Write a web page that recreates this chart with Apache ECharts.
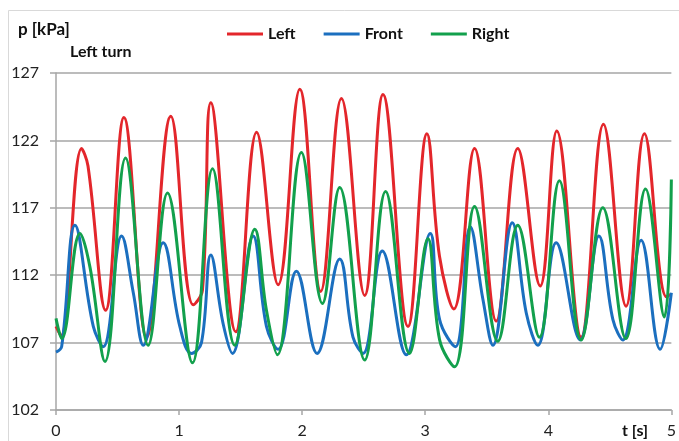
<!DOCTYPE html>
<html>
<head>
<meta charset="utf-8">
<script src="https://cdn.jsdelivr.net/npm/echarts@6/dist/echarts.min.js"></script>
<style>
  html, body { margin: 0; padding: 0; background: #fff; }
  #chart { width: 679px; height: 441px; }
</style>
</head>
<body>
<div id="chart"></div>
<script>
// time [s] and pressure [kPa]
var leftT = [0, 0.04, 0.208, 0.26, 0.403, 0.552, 0.736, 0.933, 1.115, 1.19, 1.258, 1.461, 1.63, 1.805, 1.981, 2.151, 2.319, 2.508, 2.657, 2.86, 3.014, 3.116, 3.232, 3.401, 3.577, 3.752, 3.934, 4.069, 4.267, 4.448, 4.632, 4.781, 4.96, 5];
var leftP = [108.2, 107.5, 121.4, 120.1, 109.4, 123.7, 107.4, 123.8, 109.8, 110.9, 124.8, 107.8, 122.6, 111.3, 125.8, 110.8, 125.1, 110.5, 125.4, 108.2, 122.5, 113.4, 109.5, 121.4, 108.6, 121.4, 111.2, 122.7, 107.4, 123.2, 109.7, 122.5, 110.4, 110.6];

var frontT = [0, 0.046, 0.154, 0.303, 0.384, 0.533, 0.628, 0.709, 0.871, 1.006, 1.101, 1.182, 1.258, 1.358, 1.434, 1.602, 1.71, 1.805, 1.953, 2.121, 2.305, 2.413, 2.495, 2.651, 2.846, 3.041, 3.117, 3.245, 3.366, 3.469, 3.55, 3.707, 3.821, 3.915, 4.064, 4.259, 4.411, 4.525, 4.606, 4.754, 4.909, 5];
var frontP = [106.3, 106.7, 115.7, 108.2, 106.7, 114.9, 110.7, 106.8, 114.4, 108.2, 106.2, 107.0, 113.5, 108.4, 106.2, 114.9, 108.2, 106.5, 112.3, 106.2, 113.2, 107.4, 106.2, 113.8, 106.1, 115.1, 108.7, 106.7, 115.6, 110.2, 106.8, 115.9, 109.2, 106.8, 114.4, 107.2, 114.9, 108.7, 107.2, 114.6, 106.5, 110.7];

var rightT = [0, 0.046, 0.195, 0.276, 0.398, 0.565, 0.749, 0.906, 1.109, 1.272, 1.453, 1.615, 1.71, 1.799, 1.994, 2.165, 2.305, 2.508, 2.678, 2.872, 3.022, 3.117, 3.239, 3.401, 3.59, 3.752, 3.928, 4.09, 4.267, 4.443, 4.63, 4.79, 4.943, 5];
var rightP = [108.8, 107.3, 115.1, 112.6, 105.6, 120.7, 106.8, 118.1, 105.5, 119.9, 106.8, 115.4, 109.4, 106.1, 121.1, 109.9, 118.5, 105.7, 118.2, 106.2, 114.7, 107.2, 105.2, 117.1, 107.1, 115.7, 107.4, 119.0, 107.2, 117.0, 107.3, 118.4, 108.9, 119.1];

var seriesNames = ["Left", "Front", "Right"];
var seriesColors = ["#e3262b", "#1b6fbf", "#12a04c"];

function pairs(t, p) {
  var out = [];
  for (var i = 0; i < t.length; i++) out.push([t[i], p[i]]);
  return out;
}

var chart = echarts.init(document.getElementById("chart"));
var font = "Lato, 'DejaVu Sans', sans-serif";
var gridColor = "#a6a6a6";

chart.setOption({
  backgroundColor: "#fff",
  animation: false,
  textStyle: { fontFamily: font },
  color: seriesColors,
  grid: { left: 56, right: 7, top: 73, bottom: 31 },
  legend: {
    left: 222,
    top: 21,
    itemWidth: 36,
    itemHeight: 14,
    itemGap: 28,
    icon: "path://M0,6 L36,6 L36,9 L0,9 Z",
    textStyle: { fontFamily: font, fontWeight: "bold", fontSize: 16, color: "#111" },
    data: seriesNames
  },
  graphic: [
    { type: "rect", silent: true, shape: { x: 8.5, y: 10.5, width: 720, height: 500 },
      style: { fill: "none", stroke: "#d9d9d9", lineWidth: 1 } },
    { type: "text", left: 18, top: 21,
      style: { text: "p [kPa]", font: "bold 17px " + font, fill: "#111" } },
    { type: "text", left: 70, top: 44,
      style: { text: "Left turn", font: "bold 16px " + font, fill: "#111" } },
    { type: "text", left: 622, top: 423,
      style: { text: "t [s]", font: "bold 16px " + font, fill: "#111" } }
  ],
  xAxis: {
    type: "value",
    min: 0,
    max: 5,
    interval: 1,
    axisLine: { lineStyle: { color: gridColor, width: 1.5 } },
    axisTick: { show: true, length: 5, lineStyle: { color: gridColor, width: 1.5 } },
    axisLabel: { color: "#222", fontSize: 16, margin: 13 },
    splitLine: { show: false }
  },
  yAxis: {
    type: "value",
    min: 102,
    max: 127,
    interval: 5,
    axisLine: { show: true, lineStyle: { color: gridColor, width: 1.5 } },
    axisTick: { show: true, length: 6, lineStyle: { color: gridColor, width: 1.5 } },
    axisLabel: { color: "#222", fontSize: 16, margin: 17 },
    splitLine: { show: true, lineStyle: { color: gridColor, width: 1.5 } }
  },
  series: [
    { name: "Left", type: "line", data: pairs(leftT, leftP), smooth: 0.4,
      showSymbol: false, lineStyle: { width: 3 } },
    { name: "Front", type: "line", data: pairs(frontT, frontP), smooth: 0.4,
      showSymbol: false, lineStyle: { width: 3 } },
    { name: "Right", type: "line", data: pairs(rightT, rightP), smooth: 0.4,
      showSymbol: false, lineStyle: { width: 3 } }
  ]
});
</script>
</body>
</html>
